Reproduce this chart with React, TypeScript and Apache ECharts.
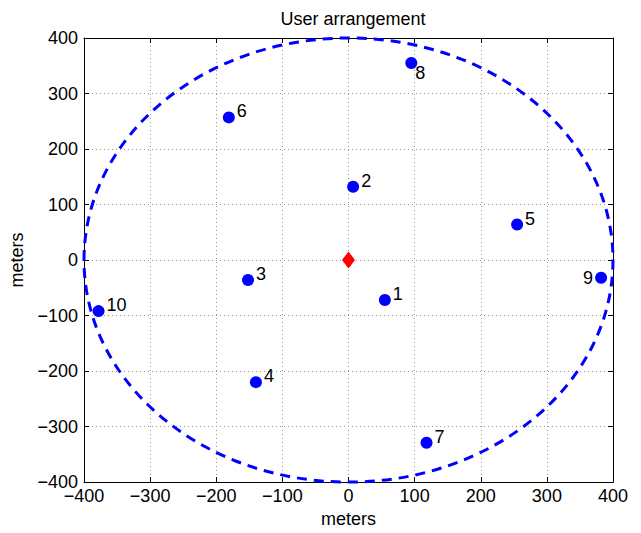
import React, { useEffect, useRef } from "react";
import * as echarts from "echarts";

const userIds = ["1", "2", "3", "4", "5", "6", "7", "8", "9", "10"];
const userX = [55, 7, -152, -140, 255, -181, 118, 95, 382, -378];
const userY = [-72, 132, -36, -220, 64, 257, -329, 355, -32, -92];
const baseX = [0];
const baseY = [0];
const cellRadius = [400];
const axisTicks = [-400, -300, -200, -100, 0, 100, 200, 300, 400];

const FONT = "'Liberation Sans', Arial, Helvetica, sans-serif";
const FS = 18;

export default function App() {
  const ref = useRef<HTMLDivElement>(null);
  useEffect(() => {
    if (!ref.current) return;
    const chart = echarts.init(ref.current, null, { renderer: "svg" });
    const fmt = (v: number) => String(v).replace("-", "\u2212");
    const gridLine = { show: true, lineStyle: { color: "#999", type: [1, 3] as any, width: 1 } };
    const axisCommon = {
      type: "value" as const,
      min: axisTicks[0],
      max: axisTicks[axisTicks.length - 1],
      interval: 100,
    };
    const pointData = userIds.map((id, i) => {
      let label: any = { position: "right", distance: 2, offset: [0, -6] };
      if (id === "8") label = { position: "right", distance: 2, offset: [-4, 10] };
      if (id === "9") label = { position: "left", distance: 2, offset: [0, 0] };
      return { value: [userX[i], userY[i]], name: id, label };
    });
    chart.setOption({
      animation: false,
      backgroundColor: "#fff",
      textStyle: { fontFamily: FONT },
      title: {
        text: "User arrangement",
        left: 348,
        top: 5,
        textAlign: "center",
        textStyle: { fontFamily: FONT, fontSize: FS, fontWeight: "normal", color: "#000" },
      },
      grid: { left: 83, right: 28, top: 38, bottom: 45, containLabel: false },
      xAxis: [
        {
          ...axisCommon,
          position: "bottom",
          name: "meters",
          nameLocation: "middle",
          nameGap: 27,
          nameTextStyle: { fontFamily: FONT, fontSize: FS, color: "#000" },
          axisLine: { show: true, onZero: false, lineStyle: { color: "#000", width: 1 } },
          axisTick: { show: true, inside: true, length: 5, lineStyle: { color: "#000" } },
          axisLabel: { formatter: fmt, fontFamily: FONT, fontSize: FS, color: "#000", margin: 5 },
          splitLine: gridLine,
        },
        {
          ...axisCommon,
          position: "top",
          axisLine: { show: true, onZero: false, lineStyle: { color: "#000", width: 1 } },
          axisTick: { show: true, inside: true, length: 5, lineStyle: { color: "#000" } },
          axisLabel: { show: false },
          splitLine: { show: false },
        },
      ],
      yAxis: [
        {
          ...axisCommon,
          position: "left",
          name: "meters",
          nameLocation: "middle",
          nameGap: 58,
          nameRotate: 90,
          nameTextStyle: { fontFamily: FONT, fontSize: FS, color: "#000" },
          axisLine: { show: true, onZero: false, lineStyle: { color: "#000", width: 1 } },
          axisTick: { show: true, inside: true, length: 5, lineStyle: { color: "#000" } },
          axisLabel: { formatter: fmt, fontFamily: FONT, fontSize: FS, color: "#000", margin: 6 },
          splitLine: gridLine,
        },
        {
          ...axisCommon,
          position: "right",
          axisLine: { show: true, onZero: false, lineStyle: { color: "#000", width: 1 } },
          axisTick: { show: true, inside: true, length: 5, lineStyle: { color: "#000" } },
          axisLabel: { show: false },
          splitLine: { show: false },
        },
      ],
      series: [
        {
          type: "custom",
          xAxisIndex: 0,
          yAxisIndex: 0,
          clip: false,
          silent: true,
          data: cellRadius.map((r) => [baseX[0], baseY[0], r]),
          renderItem: (params: any, api: any) => {
            const c = api.coord([api.value(0), api.value(1)]);
            const s = api.size([api.value(2), api.value(2)]);
            return {
              type: "ellipse",
              shape: { cx: c[0], cy: c[1], rx: s[0], ry: s[1] },
              style: { fill: "none", stroke: "#0000ff", lineWidth: 3, lineDash: [10, 7] },
            };
          },
          z: 2,
        },
        {
          type: "scatter",
          xAxisIndex: 0,
          yAxisIndex: 0,
          symbol: "circle",
          symbolSize: 12,
          itemStyle: { color: "#0000ff", opacity: 1 },
          label: {
            show: true,
            formatter: "{b}",
            fontFamily: FONT,
            fontSize: FS,
            color: "#000",
            opacity: 1,
          },
          data: pointData,
          z: 3,
        },
        {
          type: "scatter",
          xAxisIndex: 0,
          yAxisIndex: 0,
          symbol: "diamond",
          symbolSize: [13, 17],
          itemStyle: { color: "#ff0000", opacity: 1 },
          data: baseX.map((x, i) => [x, baseY[i]]),
          z: 3,
        },
      ],
    });
    return () => chart.dispose();
  }, []);
  return <div ref={ref} style={{ width: 641, height: 533, position: "absolute", left: 0, top: 0 }} />;
}
